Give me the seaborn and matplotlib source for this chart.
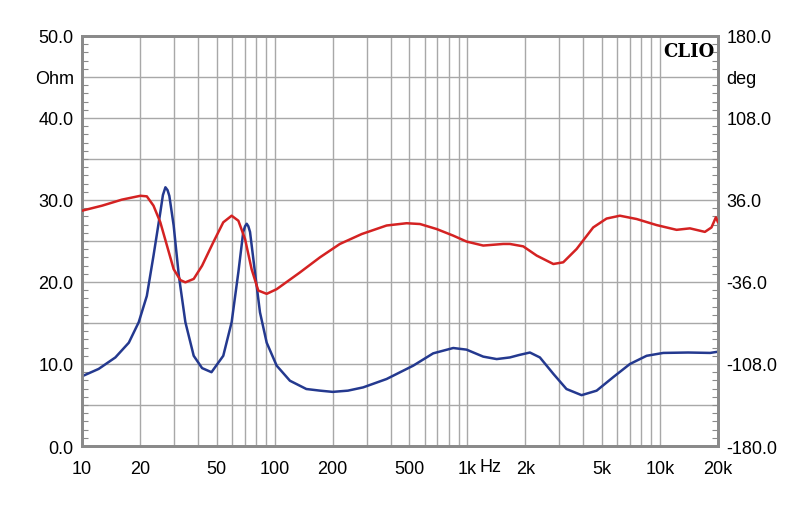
import numpy as np
import pandas as pd
import matplotlib
matplotlib.use("Agg")
import matplotlib.pyplot as plt
import seaborn as sns
from matplotlib.ticker import FixedLocator, NullFormatter, NullLocator

# Impedance magnitude (Ohm), left axis
imp_freq = [10, 12.2, 14.9, 17.5, 19.7, 21.7, 23.5, 25.5, 26.3, 27.1, 27.8, 28.4, 29.9, 31.8,
            34.4, 38.0, 42, 47, 54.1, 59.8, 64.8, 68.7, 70.2, 71.6, 73.0, 74.5, 79, 83.9, 90.9,
            102.4, 120, 146, 172, 200, 240, 288, 381, 524, 665, 845, 991, 1209, 1420, 1663,
            1858, 2113, 2380, 2795, 3270, 3918, 4690, 5720, 6980, 8520, 10400, 14000, 18200, 20000]
imp_ohm = [8.5, 9.4, 10.8, 12.6, 15.1, 18.3, 23.2, 28.5, 30.6, 31.55, 31.2, 30.5, 26.9, 20.8,
           15.1, 11.0, 9.5, 9.0, 11.0, 15.1, 21.2, 26.1, 26.8, 27.1, 26.8, 26.1, 21.2, 16.3, 12.6,
           9.8, 7.96, 6.95, 6.75, 6.6, 6.75, 7.15, 8.17, 9.8, 11.3, 11.95, 11.75, 10.9, 10.6, 10.8,
           11.1, 11.4, 10.8, 8.8, 6.95, 6.2, 6.75, 8.4, 10.0, 11.0, 11.35, 11.4, 11.35, 11.5]

# Phase (deg), right axis
ph_freq = [10, 12.7, 16.1, 20.1, 21.7, 23.5, 25.5, 27.6, 29.9, 32.4, 34.4, 38.0, 42, 48,
           54.1, 59.8, 64.8, 70.2, 75.9, 82.2, 90.9, 102.4, 135, 172, 218, 283, 381, 484,
           568, 693, 845, 991, 1209, 1536, 1663, 1950, 2290, 2795, 3146, 3692, 4500, 5280,
           6190, 7560, 9590, 12190, 14300, 17100, 18500, 19500, 20000]
ph_deg = [26.6, 31.0, 36.3, 39.7, 39.2, 31.0, 16.4, -4.0, -24.7, -34.3, -36.3, -33.3, -21.7, -1.2,
          16.4, 22.2, 17.8, 1.7, -24.7, -43.5, -46.4, -42.3, -27.7, -14.3, -2.6, 6.1, 13.6, 15.6,
          14.9, 10.5, 4.7, -0.5, -4.0, -2.6, -2.6, -4.7, -12.8, -20.2, -18.7, -7.0, 11.9, 19.7,
          22.2, 19.3, 14.0, 9.8, 11.1, 8.0, 11.9, 20.8, 16.4]

x_ticks = [10, 20, 50, 100, 200, 500, 1000, 2000, 5000, 10000, 20000]
x_labels = ["10", "20", "50", "100", "200", "500", "1k", "2k", "5k", "10k", "20k"]
left_ticks = [0, 10, 20, 30, 40, 45, 50]
left_labels = ["0.0", "10.0", "20.0", "30.0", "40.0", "Ohm", "50.0"]
right_ticks = [-180, -108, -36, 36, 108, 144, 180]
right_labels = ["-180.0", "-108.0", "-36.0", "36.0", "108.0", "deg", "180.0"]

sns.set_theme(style="white")
plt.rcParams["font.family"] = ["Liberation Sans", "DejaVu Sans"]

fig = plt.figure(figsize=(8, 5.06), dpi=100)
ax = fig.add_axes([0.1025, 0.1166, 0.795, 0.8103])
ax2 = ax.twinx()

frame_c = "#8a8a8a"
grid_c = "#a8a8a8"

df_imp = pd.DataFrame({"f": imp_freq, "v": imp_ohm})
df_ph = pd.DataFrame({"f": ph_freq, "v": ph_deg})

ax.set_xscale("log")
ax.set_xlim(10, 20000)
ax.set_ylim(0, 50)
ax2.set_ylim(-180, 180)

# vertical grid
vlines = [v * d for d in (10, 100, 1000) for v in range(1, 10)] + [10000, 20000]
for v in vlines:
    if 10 < v < 20000:
        ax.axvline(v, color=grid_c, lw=1.0, zorder=0)
for h in np.arange(5, 50, 5):
    ax.axhline(h, color=grid_c, lw=1.0, zorder=0)

sns.lineplot(data=df_ph, x="f", y="v", ax=ax2, color="#d42222", lw=1.8, zorder=3,
             solid_joinstyle="round", solid_capstyle="round")
sns.lineplot(data=df_imp, x="f", y="v", ax=ax, color="#24398f", lw=1.8, zorder=4,
             solid_joinstyle="round", solid_capstyle="round")
ax2.set_xscale("log")
ax2.set_xlim(10, 20000)

ax.set_xlabel("")
ax.set_ylabel("")
ax2.set_ylabel("")

ax.xaxis.set_major_locator(FixedLocator(x_ticks))
ax.set_xticklabels(x_labels)
ax.xaxis.set_minor_locator(NullLocator())
ax.xaxis.set_minor_formatter(NullFormatter())
ax.tick_params(axis="x", which="both", length=0, labelsize=13, pad=10, colors="black")

ax.yaxis.set_major_locator(FixedLocator(left_ticks))
ax.set_yticklabels(left_labels)
ax.yaxis.set_minor_locator(FixedLocator(np.arange(0, 51, 1)))
ax.tick_params(axis="y", which="major", length=0, labelsize=13, pad=6, colors="black")
ax.tick_params(axis="y", which="minor", direction="in", length=4, width=0.8, color=frame_c, left=True)

ax2.yaxis.set_major_locator(FixedLocator(right_ticks))
ax2.set_yticklabels(right_labels)
ax2.yaxis.set_minor_locator(FixedLocator(np.arange(-180, 181, 7.2)))
ax2.tick_params(axis="y", which="major", length=0, labelsize=13, pad=6, colors="black")
ax2.tick_params(axis="y", which="minor", direction="in", length=4, width=0.8, color=frame_c, right=True)

for a in (ax, ax2):
    for s in a.spines.values():
        s.set_color(frame_c)
        s.set_linewidth(2.0)
        s.set_visible(True)

ax.grid(False)
ax2.grid(False)

ax2.text(0.995, 0.985, "CLIO", transform=ax.transAxes, ha="right", va="top",
         fontsize=13, fontweight="bold", family=["DejaVu Serif"], color="black", zorder=6)
fig.text(490 / 800, 1 - 468 / 506, "Hz", ha="center", va="center", fontsize=13, color="black")

fig.savefig("out.png", dpi=100)
